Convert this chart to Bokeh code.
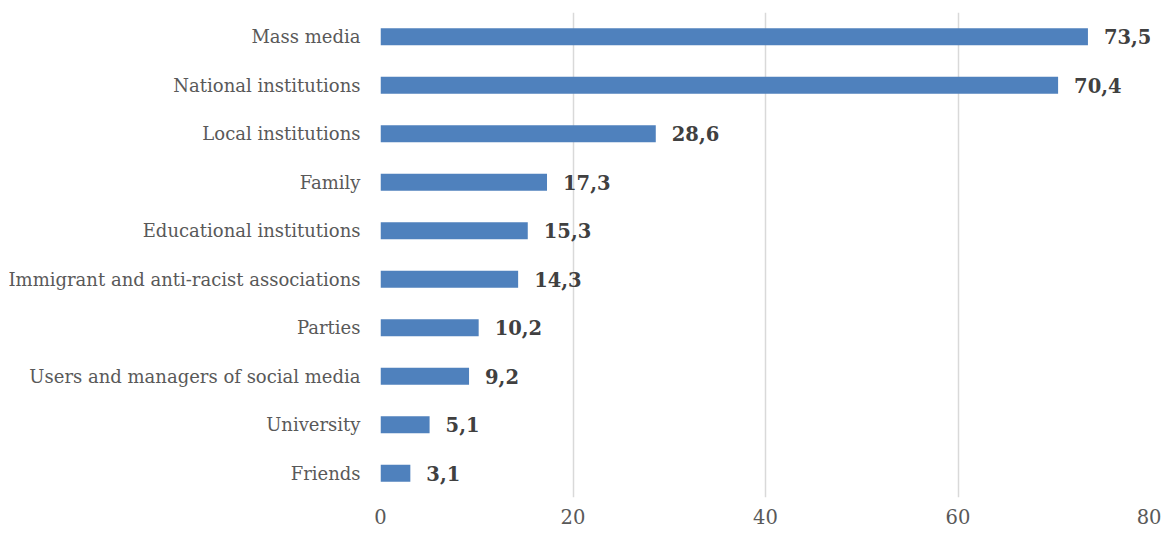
from bokeh.plotting import figure
from bokeh.models import ColumnDataSource, FactorRange, Range1d, FixedTicker
from bokeh.core.properties import value
from bokeh.embed import file_html
from bokeh.resources import INLINE

categories = ["Mass media", "National institutions", "Local institutions", "Family",
              "Educational institutions", "Immigrant and anti-racist associations",
              "Parties", "Users and managers of social media", "University", "Friends"]
values = [73.5, 70.4, 28.6, 17.3, 15.3, 14.3, 10.2, 9.2, 5.1, 3.1]
x_ticks = [0, 20, 40, 60, 80]

labels = [f"{v:.1f}".replace(".", ",") for v in values]
src = ColumnDataSource(dict(cat=categories, val=values, lab=labels))

p = figure(y_range=FactorRange(factors=list(reversed(categories))),
           x_range=Range1d(0, 80),
           width=1161, height=530, frame_width=770, frame_height=485,
           min_border_left=380, min_border_top=12, min_border_right=11, min_border_bottom=33,
           output_backend="svg", toolbar_location=None)

p.hbar(y="cat", right="val", height=0.35, source=src, color="#4F81BD", line_color=None)
p.text(x="val", y="cat", text="lab", source=src, x_offset=16,
       text_font=value("DejaVu Serif"), text_font_style="bold",
       text_font_size="19.5px", text_color="#404040", text_baseline="middle", text_align="left")

p.outline_line_color = None
p.xgrid.ticker = FixedTicker(ticks=x_ticks)
p.xgrid.grid_line_color = "#d9d9d9"
p.xgrid.grid_line_width = 1.5
p.ygrid.grid_line_color = None

p.xaxis.ticker = FixedTicker(ticks=x_ticks)
p.xaxis.axis_line_color = None
p.xaxis.major_tick_line_color = None
p.xaxis.minor_tick_line_color = None
p.xaxis.major_tick_out = 0
p.xaxis.major_label_standoff = 11
p.xaxis.major_label_text_font = "DejaVu Serif"
p.xaxis.major_label_text_font_size = "19.5px"
p.xaxis.major_label_text_color = "#595959"

p.yaxis.axis_line_color = None
p.yaxis.major_tick_line_color = None
p.yaxis.major_tick_out = 0
p.yaxis.major_label_standoff = 20
p.yaxis.major_label_text_font = "DejaVu Serif"
p.yaxis.major_label_text_font_size = "18px"
p.yaxis.major_label_text_color = "#595959"

open("out.html", "w").write(file_html(p, INLINE))
